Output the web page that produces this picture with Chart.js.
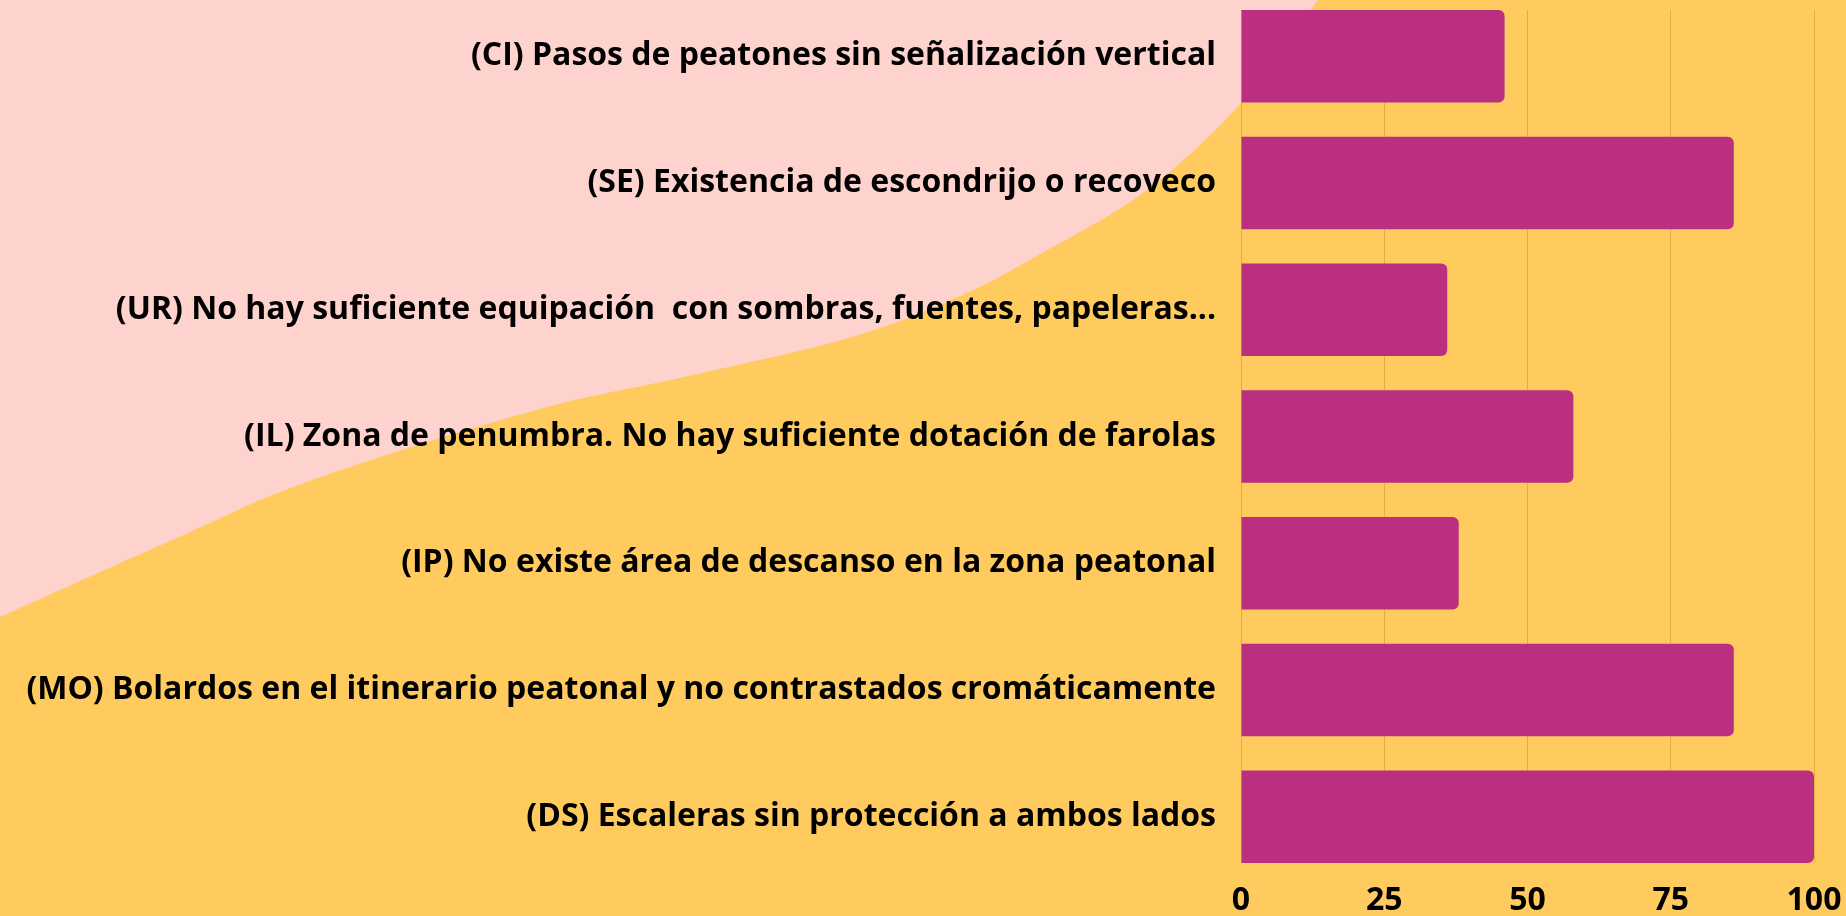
<!DOCTYPE html>
<html>
<head>
<meta charset="utf-8">
<script src="https://cdn.jsdelivr.net/npm/chart.js@4/dist/chart.umd.min.js"></script>
<style>
  html, body { margin: 0; padding: 0; background: #FFD3CD; }
  #wrap { width: 1846px; height: 916px; position: relative; }
</style>
</head>
<body>
<div id="wrap"><canvas id="c" width="1846" height="916"></canvas></div>
<script>
const categories = [
  "(CI) Pasos de peatones sin señalización vertical",
  "(SE) Existencia de escondrijo o recoveco",
  "(UR) No hay suficiente equipación  con sombras, fuentes, papeleras...",
  "(IL) Zona de penumbra. No hay suficiente dotación de farolas",
  "(IP) No existe área de descanso en la zona peatonal",
  "(MO) Bolardos en el itinerario peatonal y no contrastados cromáticamente",
  "(DS) Escaleras sin protección a ambos lados"
];
const values = [46, 86, 36, 58, 38, 86, 100];
const xTicks = [0, 25, 50, 75, 100];

const PINK = '#FFD3CD';
const YELLOW = '#FFCB5F';
const BAR = '#BA2F80';

// decorative background wave (pink top-left, yellow bottom-right)
const wavePts = [[1318,0],[1241,103],[1147,190],[1042,253],[958,297],[852,337],[684,377],[536,410],[312,480],[179,537],[0,617]];
const bgPlugin = {
  id: 'bg',
  beforeDraw(chart) {
    const ctx = chart.ctx;
    const W = chart.width, H = chart.height;
    ctx.save();
    ctx.fillStyle = PINK;
    ctx.fillRect(0, 0, W, H);
    ctx.beginPath();
    const p = wavePts;
    ctx.moveTo(p[0][0], p[0][1]);
    for (let i = 0; i < p.length - 1; i++) {
      const p0 = p[Math.max(i - 1, 0)], p1 = p[i], p2 = p[i + 1], p3 = p[Math.min(i + 2, p.length - 1)];
      const c1x = p1[0] + (p2[0] - p0[0]) / 6, c1y = p1[1] + (p2[1] - p0[1]) / 6;
      const c2x = p2[0] - (p3[0] - p1[0]) / 6, c2y = p2[1] - (p3[1] - p1[1]) / 6;
      ctx.bezierCurveTo(c1x, c1y, c2x, c2y, p2[0], p2[1]);
    }
    ctx.lineTo(0, H);
    ctx.lineTo(W, H);
    ctx.lineTo(W, 0);
    ctx.closePath();
    ctx.fillStyle = YELLOW;
    ctx.fill();
    ctx.restore();
  }
};

const FONT = { family: '"Open Sans"', size: 32, weight: 'bold' };
const half = 0.365;
new Chart(document.getElementById('c'), {
  type: 'bar',
  data: {
    datasets: [{
      data: values.map((v, i) => ({ x: v, y: i })),
      backgroundColor: BAR,
      borderWidth: 0,
      borderRadius: 6,
      borderSkipped: 'start',
      categoryPercentage: 0.73,
      barPercentage: 1
    }]
  },
  plugins: [bgPlugin],
  options: {
    indexAxis: 'y',
    responsive: false,
    animation: false,
    layout: { padding: { top: 10, right: 32, bottom: 0, left: 0 } },
    plugins: { legend: { display: false }, tooltip: { enabled: false } },
    scales: {
      x: {
        type: 'linear',
        position: 'bottom',
        min: 0, max: 100,
        offset: false,
        afterBuildTicks: s => { s.ticks = xTicks.map(v => ({ value: v })); },
        afterFit: s => { s.paddingLeft = 0; s.paddingRight = 0; s.height = 53; },
        grid: { color: 'rgba(170,120,20,0.35)', lineWidth: 1, drawTicks: false, offset: false },
        border: { display: false },
        ticks: {
          color: '#000',
          padding: 19,
          font: FONT
        }
      },
      y: {
        type: 'linear',
        reverse: true,
        offset: false,
        min: -half, max: categories.length - 1 + half,
        afterBuildTicks: s => { s.ticks = categories.map((c, i) => ({ value: i })); },
        afterFit: s => { s.width = 1241; s.paddingTop = 0; s.paddingBottom = 0; },
        grid: { display: false, drawTicks: false, offset: false },
        border: { display: false },
        ticks: {
          autoSkip: false,
          color: '#000',
          padding: 25,
          font: FONT,
          callback: v => categories[v]
        }
      }
    }
  }
});
</script>
</body>
</html>
